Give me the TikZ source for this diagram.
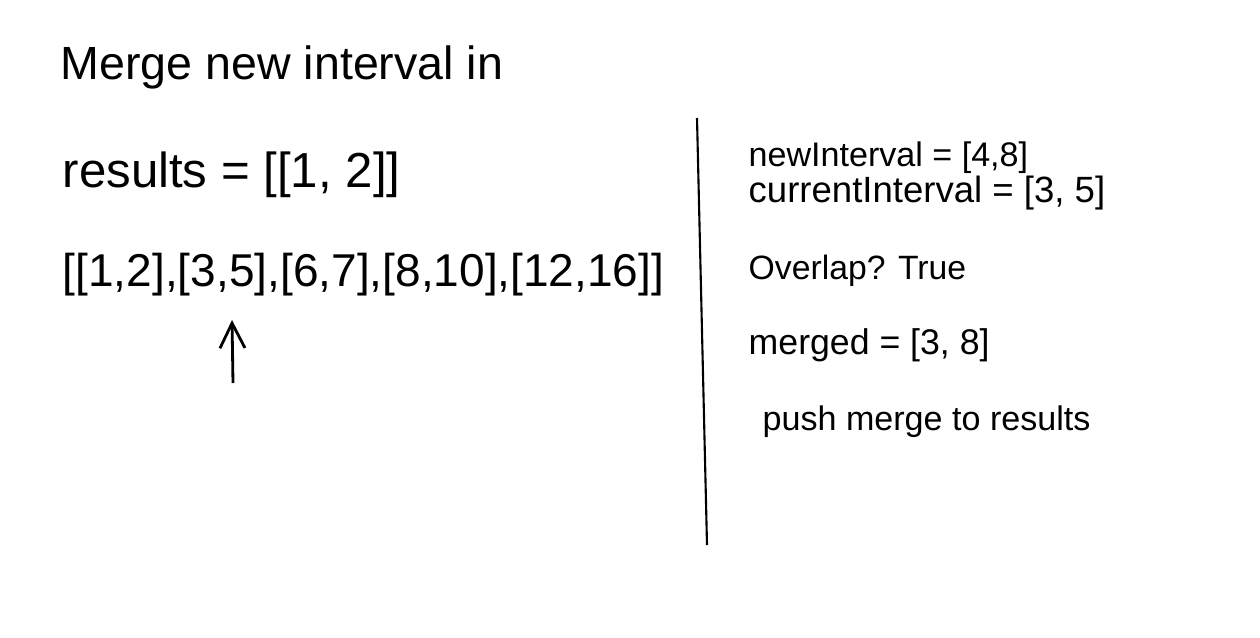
\documentclass[tikz,border=0pt]{standalone}
\usepackage{fontspec}
\setmainfont{Liberation Sans}
\usetikzlibrary{arrows.meta}

\begin{document}
\begin{tikzpicture}[x=0.02cm, y=-0.02cm, thick,
                    big text/.style={anchor=base west, inner sep=0pt, font=\fontsize{#1}{32}\selectfont},
                    big text/.default=26.5,
                    side text/.style={anchor=base west, inner sep=0pt, font=\fontsize{#1}{24}\selectfont},
                    side text/.default=20]
  \useasboundingbox (0,0) rectangle (1260,638);

  \node[big text] (title) at (60,80) {Merge new interval in};
  \node[big text=28] (results) at (62,188) {results = [[1, 2]]};
  \node[big text=26.2] (list) at (62,287) {[[1,2],[3,5],[6,7],[8,10],[12,16]]};

  \node[side text=19.4] (new) at (748,167) {newInterval = [4,8]};
  \node[side text=20.8] (current) at (748,203) {currentInterval = [3, 5]};
  \node[side text=19.2] (overlap) at (748,280) {Overlap? True};
  \node[side text=20.3] (merged) at (748,355) {merged = [3, 8]};
  \node[side text=19.4] (push) at (762,430) {push merge to results};

  % pointer and divider
  \coordinate (tail) at (233,383);
  \coordinate (tip) at (232,320);
  \coordinate (top) at (697,118);
  \coordinate (bottom) at (707,545);

  \draw[-{Straight Barb[length=0.5cm, width=0.5cm]}, line width=1.6pt] (tail) -- (tip);
  \draw[line width=1.2pt] (top) -- (bottom);

\end{tikzpicture}
\end{document}
